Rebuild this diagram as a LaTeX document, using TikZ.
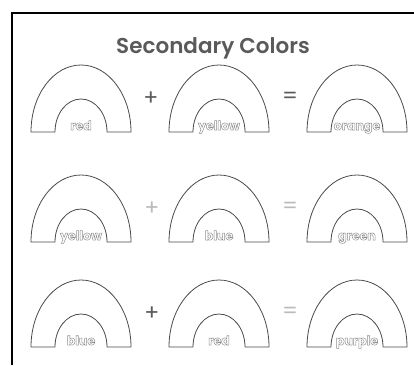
\documentclass[tikz,border=0pt]{standalone}
\usepackage{fontspec}
\setmainfont{Poppins}
\newfontfamily\titlefont{Poppins SemiBold}
\definecolor{titlegray}{HTML}{5A5A5A}
\definecolor{linegray}{HTML}{4A4A4A}
\definecolor{lightop}{HTML}{BBBBBB}
\definecolor{labelgray}{HTML}{8E8E8E}
\newcommand\outlinetext[1]{\special{pdf:literal direct 1 Tr 0.5 w}#1\special{pdf:literal direct 0 Tr}}
\newcommand\rbow[4]{%
  \draw[arch] (#1-50,#2) arc[start angle=180,end angle=0,x radius=50,y radius=67]
    -- (#1+26,#2) arc[start angle=0,end angle=180,x radius=26,y radius=33] -- cycle;
  \node[lbl] (#4) at (#1,#2+2) {\outlinetext{#3}};
}
\begin{document}
\begin{tikzpicture}[x=1pt,y=1pt,
  arch/.style={draw=linegray,line width=0.8pt,line join=round},
  lbl/.style={anchor=base,inner sep=0pt,font=\bfseries\fontsize{12.5}{14}\selectfont,text=labelgray},
  opdark/.style={font=\fontsize{22}{24}\selectfont,text=titlegray,inner sep=0pt},
  oplight/.style={font=\fontsize{22}{24}\selectfont,text=lightop,inner sep=0pt}]
\useasboundingbox (0,0) rectangle (414,365);
\draw[line width=2pt] (12,0) -- (12,352) -- (414,352);
\node[anchor=base,inner sep=0pt,font=\titlefont\fontsize{21.5}{24}\selectfont,text=titlegray] (title) at (213,312) {Secondary Colors};
% row 1
\rbow{81}{233}{red}{r1a}
\rbow{219}{233}{yellow}{r1b}
\rbow{357}{233}{orange}{r1c}
\node[opdark] (p1) at (151,266) {+};
\node[opdark] (e1) at (290,267) {=};
% row 2
\rbow{81}{123}{yellow}{r2a}
\rbow{219}{123}{blue}{r2b}
\rbow{357}{123}{green}{r2c}
\node[oplight] (p2) at (152,156) {+};
\node[oplight] (e2) at (290,157) {=};
% row 3
\rbow{81}{18}{blue}{r3a}
\rbow{219}{18}{red}{r3b}
\rbow{357}{18}{purple}{r3c}
\node[opdark] (p3) at (152,51) {+};
\node[oplight] (e3) at (290,52) {=};
\end{tikzpicture}
\end{document}
